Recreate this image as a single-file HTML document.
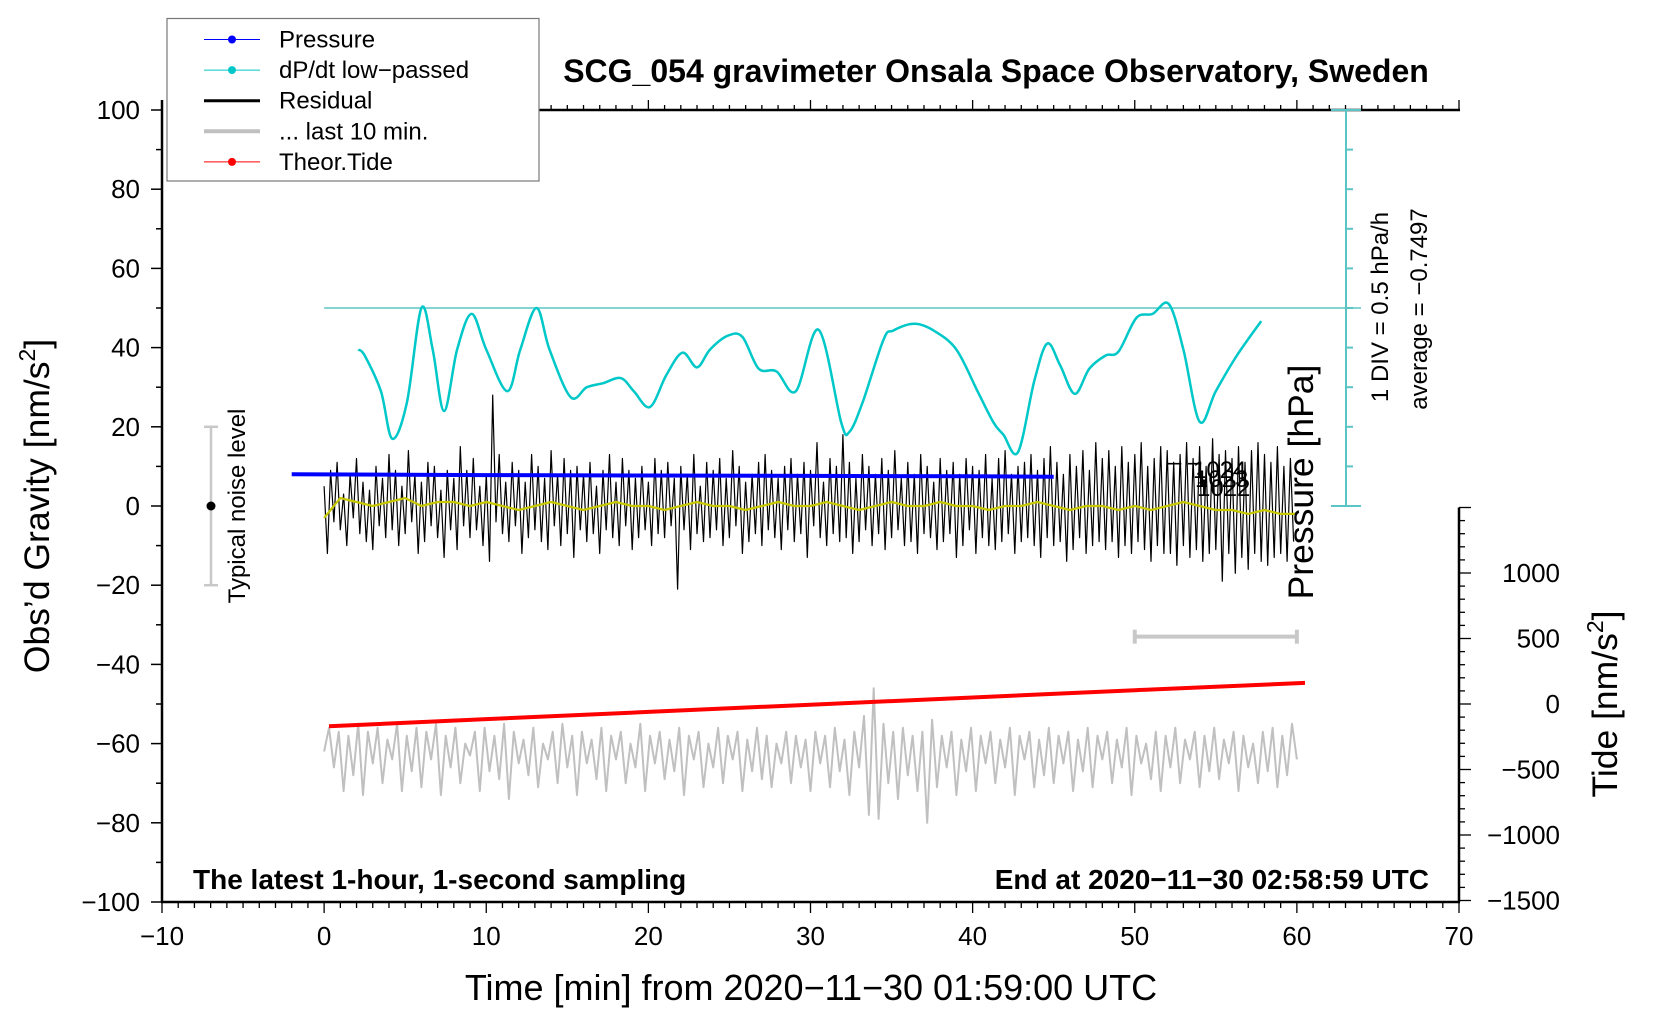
<!DOCTYPE html>
<html><head><meta charset="utf-8">
<style>
html,body{margin:0;padding:0;background:#fff;}
svg{display:block;font-family:"Liberation Sans",sans-serif;}
</style></head>
<body>
<svg id="chart" width="1660" height="1020" viewBox="0 0 1660 1020" xmlns="http://www.w3.org/2000/svg">
<rect x="0" y="0" width="1660" height="1020" fill="#fff"/>
<g id="axes"></g>
<g id="series"></g>
<text x="996" y="82" font-size="32" font-weight="bold" text-anchor="middle">SCG_054 gravimeter Onsala Space Observatory, Sweden</text>
<text transform="translate(49,506) rotate(-90)" font-size="35.5" text-anchor="middle">Obs’d Gravity [nm/s<tspan font-size="23" dy="-14">2</tspan><tspan dy="14">]</tspan></text>
<text x="811" y="1000" font-size="36" text-anchor="middle">Time [min] from 2020−11−30 01:59:00 UTC</text>
<text transform="translate(1617,704) rotate(-90)" font-size="35.5" text-anchor="middle">Tide [nm/s<tspan font-size="23" dy="-14">2</tspan><tspan dy="14">]</tspan></text>
<text transform="translate(1313,482) rotate(-90)" font-size="35.5" text-anchor="middle">Pressure [hPa]</text>
<text transform="translate(1388,307) rotate(-90)" font-size="24" text-anchor="middle">1 DIV = 0.5 hPa/h</text>
<text transform="translate(1427,309) rotate(-90)" font-size="24" text-anchor="middle">average = −0.7497</text>
<text transform="translate(245,506) rotate(-90)" font-size="24" text-anchor="middle">Typical noise level</text>
<text x="193" y="889" font-size="28" font-weight="bold">The latest 1-hour, 1-second sampling</text>
<text x="1429" y="889" font-size="28" font-weight="bold" text-anchor="end">End at 2020−11−30 02:58:59 UTC</text>
<g font-size="24">
<text x="1193" y="478">1024</text><text x="1195" y="487">1023</text><text x="1197" y="496">1022</text>
<text x="1168" y="470">‒ ‒</text>
</g>
<g id="legend"></g>
</svg>
<script>
// ---- data ----
const gravTicks = [100,80,60,40,20,0,-20,-40,-60,-80,-100];
const timeTicks = [-10,0,10,20,30,40,50,60,70];
const tideTicks = [1000,500,0,-500,-1000,-1500];
const dpdtTimes = [2.1,2.5,3.5,4.2,5.1,6.0,6.7,7.4,8.2,9.1,10,11.3,12.1,13.1,13.9,15.2,16.2,17.2,18.3,19.1,20.1,21.1,22.1,23,23.8,24.9,25.8,26.8,27.9,29.1,30.5,31.9,32.4,33.2,34.5,35.1,36.4,37.6,39,40.3,41.3,41.9,42.8,43.8,44.6,45.4,46.3,47.2,48.2,49,50.1,51.1,52.1,53,54,55,56.3,57.8];
const dpdtValues = [39.5,38,29,17,26,50,39.5,24,39.5,48.5,39.5,29,39.5,50,39.5,27.5,30,31,32.3,29,25,33,38.7,35,39.5,43,42.7,34.7,34,29,44.5,21,18.7,26,42,44.3,46,44.3,39.5,29,21,18,13.6,31.5,41,35.5,28.3,34.7,38,39,47.5,48.5,51,39.5,21.3,29,38,46.7];
const pressureTimes = [-2,10,20,30,40,45];
const pressureValues = [8.0,7.8,7.7,7.6,7.5,7.4];
const residualStep = 0.2;
const residualValues = [
5,-12,9,-4,11,-6,3,-10,8,-3,12,-7,6,-9,4,-11,10,-5,7,-8,
13,-6,9,-10,5,-7,14,-4,8,-12,6,-9,11,-5,10,-8,4,-13,9,-6,
7,-11,15,-5,9,-8,12,-6,5,-10,8,-14,28,-4,13,-7,6,-9,11,-5,
9,-12,6,-8,13,-6,10,-9,7,-11,14,-5,8,-10,12,-7,9,-13,10,-6,
8,-9,11,-7,5,-12,9,-6,13,-8,6,-10,12,-5,9,-11,7,-8,10,-6,
6,-10,12,-7,9,-8,11,-5,7,-21,10,-6,8,-11,13,-7,5,-9,11,-8,
9,-6,12,-10,7,-8,14,-5,10,-12,6,-9,8,-7,11,-10,13,-6,9,-8,
7,-11,10,-6,12,-9,8,-7,11,-13,9,-5,16,-8,6,-10,12,-7,10,-9,
18,-8,11,-12,7,-9,13,-6,10,-10,8,-7,12,-11,9,-8,14,-6,7,-10,
11,-9,8,-12,13,-7,10,-8,6,-11,12,-9,9,-7,11,-13,8,-10,12,-6,
10,-12,9,-8,13,-10,7,-11,12,-9,14,-7,8,-12,10,-9,11,-8,13,-10,
9,-13,12,-8,15,-10,11,-9,8,-14,13,-11,10,-8,14,-12,9,-10,16,-9,
12,-11,14,-9,10,-13,15,-10,11,-12,13,-9,16,-11,10,-14,12,-10,15,-12,
14,-12,11,-15,13,-10,16,-13,12,-11,15,-14,10,-12,17,-11,13,-19,14,-12,
12,-17,15,-13,11,-16,14,-12,16,-14,13,-15,11,-13,15,-12,10,-14,12,-9];
const smoothStep = 1;
const smoothValues = [-3,2,1,0,1,2,0,1,1,0,1,0,-1,0,1,0,-1,0,1,0,0,-1,0,1,0,0,-1,0,1,0,0,1,0,-1,0,1,0,0,1,0,0,-1,0,0,1,0,-1,0,0,-1,0,-1,0,1,0,-1,-1,-2,-1,-2,-2];
const last10Step = 0.3;
const last10Values = [
-62,-56,-66,-57,-72,-58,-68,-55,-73,-57,-65,-56,-70,-59,-64,-55,-72,-58,-67,-56,
-71,-57,-64,-55,-73,-58,-66,-56,-70,-60,-63,-57,-72,-56,-67,-58,-69,-55,-74,-57,
-65,-59,-68,-56,-71,-60,-64,-57,-70,-55,-66,-58,-73,-57,-65,-59,-69,-56,-72,-58,
-64,-57,-70,-60,-66,-55,-72,-58,-65,-57,-69,-59,-67,-56,-73,-58,-64,-57,-71,-60,
-66,-56,-70,-58,-64,-57,-72,-59,-67,-56,-69,-58,-71,-60,-65,-57,-70,-58,-66,-59,
-72,-57,-65,-58,-71,-56,-67,-59,-73,-57,-66,-53,-78,-46,-79,-55,-70,-57,-74,-56,
-68,-58,-72,-57,-80,-54,-71,-58,-66,-57,-73,-59,-67,-56,-72,-58,-65,-57,-70,-59,
-66,-56,-73,-58,-64,-57,-71,-59,-68,-56,-70,-58,-65,-57,-72,-59,-67,-56,-71,-58,
-64,-57,-70,-59,-66,-56,-73,-58,-65,-60,-69,-57,-72,-58,-66,-56,-70,-59,-64,-57,
-71,-58,-67,-56,-69,-59,-65,-57,-72,-58,-66,-60,-70,-57,-67,-56,-71,-58,-68,-55,
-64];
const tideTimes = [0.3,10,20,30,40,50,60.5];
const tideValues = [-170,-115,-60,-5,50,105,161];
const noiseRange = [20,-20];
const windowRange = [50,60];
const legendLabels = ["Pressure","dP/dt low−passed","Residual","... last 10 min.","Theor.Tide"];

// ---- scales ----
const X0=162, X1=1459, Y0=110, Y1=902;
const xs = t => X0 + (t+10)/80*(X1-X0);
const ys = g => Y0 + (100-g)/200*(Y1-Y0);
const tideY = v => 704 - v*0.131;
const NS="http://www.w3.org/2000/svg";
function mk(tag, attrs, parent){const e=document.createElementNS(NS,tag);for(const k in attrs)e.setAttribute(k,attrs[k]);parent.appendChild(e);return e;}
const axes=document.getElementById('axes');
const series=document.getElementById('series');

let e;
e=mk('line',{x1:X0,y1:100,x2:X0,y2:Y1,stroke:'#000','stroke-width':2.5},axes);


e=mk('line',{x1:X0-1,y1:Y1,x2:X1+1,y2:Y1,stroke:'#000','stroke-width':2.5},axes);


e=mk('line',{x1:539,y1:Y0,x2:X1+1,y2:Y0,stroke:'#000','stroke-width':2.5},axes);


e=mk('line',{x1:X1,y1:tideY(1500),x2:X1,y2:Y1,stroke:'#000','stroke-width':2.5},axes);



for(let g=-100; g<=100; g+=10){
  const major = g%20===0;
  e=mk('line',{x1:X0-(major?11:6),y1:ys(g),x2:X0,y2:ys(g),stroke:'#000','stroke-width':1.5},axes);
  
  
}
gravTicks.forEach(g=>{
  e=mk('text',{x:140,y:ys(g)+9,'font-size':26,'text-anchor':'end'},axes);
  e.textContent = g<0 ? '−'+(-g) : String(g);
  
  
});
for(let t=-10;t<=70;t++){
  const major = t%10===0;
  e=mk('line',{x1:xs(t),y1:Y1,x2:xs(t),y2:Y1+(major?11:6),stroke:'#000','stroke-width':1.3},axes);
  
  
  if(xs(t)>540){
    e=mk('line',{x1:xs(t),y1:Y0,x2:xs(t),y2:Y0-(major?10:5),stroke:'#000','stroke-width':1.3},axes);
    
    
  }
}
timeTicks.forEach(t=>{
  e=mk('text',{x:xs(t),y:945,'font-size':26,'text-anchor':'middle'},axes);
  e.textContent = t<0 ? '−'+(-t) : String(t);
  
  
});
for(let v=-1500; v<=1500; v+=100){
  const major = v%500===0;
  e=mk('line',{x1:X1,y1:tideY(v),x2:X1+(major?12:6),y2:tideY(v),stroke:'#000','stroke-width':1.3},axes);
  
  
}
tideTicks.forEach(v=>{
  e=mk('text',{x:1560,y:tideY(v)+9,'font-size':26,'text-anchor':'end'},axes);
  e.textContent = v<0 ? '−'+(-v) : String(v);
  
  
});
const CX=1346;
e=mk('line',{x1:CX,y1:ys(100),x2:CX,y2:ys(0),stroke:'#5bc5c5','stroke-width':2},axes);


for(let g=0; g<=100; g+=10){
  const cap = (g===0||g===100);
  e=mk('line',{x1:cap?CX-15:CX,y1:ys(g),x2:CX+(cap?15:7),y2:ys(g),stroke:'#5bc5c5','stroke-width':2},axes);
  
  
}
e=mk('line',{x1:xs(0),y1:ys(50),x2:CX+15,y2:ys(50),stroke:'#5bc5c5','stroke-width':1.5},axes);



e=mk('line',{x1:211,y1:ys(noiseRange[0]),x2:211,y2:ys(noiseRange[1]),stroke:'#c8c8c8','stroke-width':2.5},series);


noiseRange.forEach(g=>{
  e=mk('line',{x1:204,y1:ys(g),x2:218,y2:ys(g),stroke:'#c8c8c8','stroke-width':2.5},series);
  
  
});
e=mk('circle',{cx:211,cy:ys(0),r:4.5,fill:'#000'},series);



const wy = ys(-33);
e=mk('line',{x1:xs(windowRange[0]),y1:wy,x2:xs(windowRange[1]),y2:wy,stroke:'#c8c8c8','stroke-width':4},series);


windowRange.forEach(t=>{
  e=mk('line',{x1:xs(t),y1:wy-7,x2:xs(t),y2:wy+7,stroke:'#c8c8c8','stroke-width':4},series);
  
  
});

function poly(pts,stroke,w){
  return mk('polyline',{points:pts.map(q=>q[0].toFixed(1)+','+q[1].toFixed(1)).join(' '),fill:'none',stroke:stroke,'stroke-width':w,'stroke-linejoin':'round'},series);
}
function smoothPath(pts,stroke,w){
  let d='M'+pts[0][0].toFixed(1)+','+pts[0][1].toFixed(1);
  for(let i=0;i<pts.length-1;i++){
    const p0=pts[Math.max(0,i-1)],p1=pts[i],p2=pts[i+1],p3=pts[Math.min(pts.length-1,i+2)];
    const c1=[p1[0]+(p2[0]-p0[0])/6,p1[1]+(p2[1]-p0[1])/6];
    const c2=[p2[0]-(p3[0]-p1[0])/6,p2[1]-(p3[1]-p1[1])/6];
    d+=' C'+c1[0].toFixed(1)+','+c1[1].toFixed(1)+' '+c2[0].toFixed(1)+','+c2[1].toFixed(1)+' '+p2[0].toFixed(1)+','+p2[1].toFixed(1);
  }
  return mk('path',{d:d,fill:'none',stroke:stroke,'stroke-width':w},series);
}
e=poly(last10Values.map((v,i)=>[xs(i*last10Step),ys(v)]),'#c0c0c0',2);


e=poly(tideTimes.map((t,i)=>[xs(t),tideY(tideValues[i])]),'#ff0000',4);


e=poly(residualValues.map((v,i)=>[xs(i*residualStep),ys(v)]),'#000',1.2);


e=poly(pressureTimes.map((t,i)=>[xs(t),ys(pressureValues[i])]),'#0000ff',4);


e=poly(smoothValues.map((v,i)=>[xs(i*smoothStep),ys(v)]),'#c8c800',2.2);


e=smoothPath(dpdtTimes.map((t,i)=>[xs(t),ys(dpdtValues[i])]),'#00c8c8',2.5);



const lg=document.getElementById('legend');
e=mk('rect',{x:167,y:18.5,width:372,height:162.5,fill:'#fff',stroke:'#777','stroke-width':1.2},lg);


const legColors=['#0000ff','#00c8c8','#000','#c0c0c0','#ff0000'];
const legWidths=[1,1,3,4,1];
const legDots=[true,true,false,false,true];
legendLabels.forEach((lab,i)=>{
  const y=39.5+i*30.6;
  e=mk('line',{x1:204,y1:y,x2:260,y2:y,stroke:legColors[i],'stroke-width':legWidths[i]},lg);
  
  
  if(legDots[i]){
    e=mk('circle',{cx:232,cy:y,r:4,fill:legColors[i]},lg);
    
    
  }
  e=mk('text',{x:279,y:y+8,'font-size':24},lg);
  e.textContent=lab;
  
  
});
</script>
</body></html>
